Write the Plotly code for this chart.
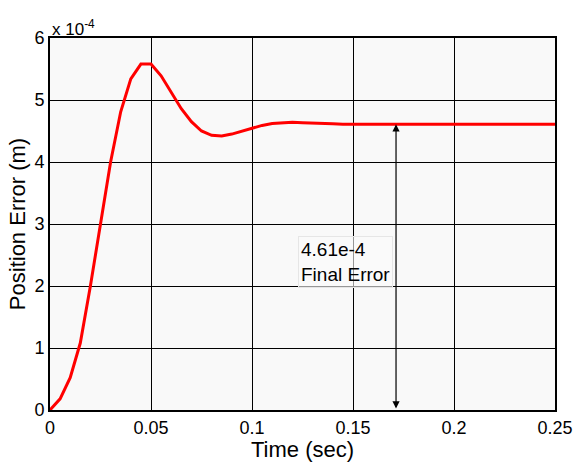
import plotly.graph_objects as go

time_s = [0, 0.005, 0.01, 0.015, 0.02, 0.025, 0.03, 0.035, 0.04, 0.045, 0.05, 0.055,
          0.06, 0.065, 0.07, 0.075, 0.08, 0.085, 0.09, 0.095, 0.1, 0.105, 0.11,
          0.115, 0.12, 0.125, 0.13, 0.135, 0.14, 0.145, 0.15, 0.2, 0.25]
error_e4 = [0, 0.18, 0.52, 1.08, 2.0, 3.0, 4.0, 4.81, 5.34, 5.58, 5.58, 5.39,
            5.12, 4.86, 4.65, 4.50, 4.43, 4.42, 4.45, 4.50, 4.55, 4.59, 4.62,
            4.63, 4.64, 4.635, 4.625, 4.62, 4.615, 4.61, 4.61, 4.61, 4.61]
x_ticks = [0, 0.05, 0.1, 0.15, 0.2, 0.25]
x_tick_labels = ["0", "0.05", "0.1", "0.15", "0.2", "0.25"]
y_ticks = [0, 1, 2, 3, 4, 5, 6]
final_error = 4.61
arrow_x = 0.1713

font = "Liberation Sans, Arial, Helvetica, sans-serif"

fig = go.Figure()
fig.add_trace(go.Scatter(x=time_s, y=error_e4, mode="lines",
                         line=dict(color="#ff0000", width=3), showlegend=False,
                         hoverinfo="skip"))

fig.add_annotation(x=arrow_x, y=final_error, ax=arrow_x, ay=0, xref="x", yref="y",
                   axref="x", ayref="y", text="", showarrow=True, arrowhead=2,
                   startarrowhead=2, arrowside="end+start", arrowwidth=1.2,
                   arrowsize=1.2, startarrowsize=1.2, arrowcolor="black")
fig.add_annotation(x=0.1228, y=2.39, xref="x", yref="y", xanchor="left", yanchor="middle",
                   text="4.61e-4<br>Final Error", showarrow=False, align="left",
                   font=dict(family=font, size=19, color="black"),
                   bgcolor="rgba(250,250,250,0.6)", bordercolor="#e6e6e6", borderwidth=1,
                   borderpad=2)
fig.add_annotation(x=0, y=1, xref="paper", yref="paper", xanchor="left", yanchor="bottom",
                   text="x 10<sup>-4</sup>", showarrow=False,
                   font=dict(family=font, size=17, color="black"), yshift=-3)

fig.update_layout(
    width=575, height=462,
    margin=dict(l=50, r=20, t=38, b=52),
    paper_bgcolor="white", plot_bgcolor="#f9f9f9",
    font=dict(family=font, size=18, color="black"),
    xaxis=dict(range=[0, 0.25], tickvals=x_ticks, ticktext=x_tick_labels,
               showgrid=True, gridcolor="black", gridwidth=1, zeroline=False,
               showline=True, linecolor="black", linewidth=2, mirror=True,
               ticks="", automargin=False,
               title=dict(text="Time (sec)", font=dict(size=22), standoff=5)),
    yaxis=dict(range=[0, 6], tickvals=y_ticks, showgrid=True, gridcolor="black",
               gridwidth=1, zeroline=False, showline=True, linecolor="black",
               linewidth=2, mirror=True, ticks="", automargin=False,
               title=dict(text="Position Error (m)", font=dict(size=22), standoff=3)),
)

fig.write_html("out.html", config={"displayModeBar": False},
               post_script="document.body.style.margin='0';document.body.style.overflow='hidden';")
